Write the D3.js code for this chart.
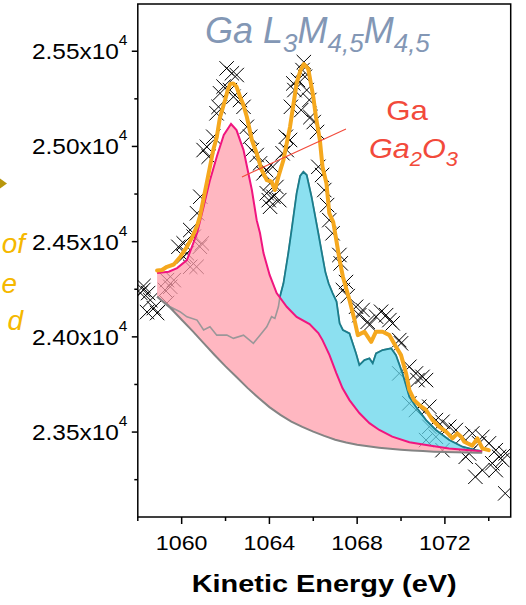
<!DOCTYPE html>
<html><head><meta charset="utf-8">
<script src="https://cdn.jsdelivr.net/npm/d3@7"></script>
<style>body{margin:0;background:#fff}svg{display:block}</style>
</head><body>
<svg id="c" width="526" height="605"></svg>
<script>
// ---- data ----
const rawE = [1058.12,1058.26,1058.25,1058.42,1058.47,1058.57,1058.73,1058.88,1059.24,1059.33,1059.33,1059.48,1059.64,1059.85,1060.09,1060.09,1060.24,1060.39,1060.39,1060.55,1060.68,1060.70,1060.83,1060.85,1060.92,1061.00,1061.15,1061.23,1061.44,1061.59,1061.68,1061.75,1061.91,1062.05,1062.20,1062.29,1062.36,1062.51,1062.66,1062.82,1062.97,1063.12,1063.20,1063.42,1063.57,1063.73,1063.85,1063.88,1063.97,1064.03,1064.03,1064.15,1064.18,1064.32,1064.45,1064.60,1064.75,1064.79,1064.94,1064.98,1065.09,1065.14,1065.30,1065.45,1065.51,1065.57,1065.62,1065.70,1065.82,1065.87,1066.02,1066.17,1066.23,1066.40,1066.50,1066.63,1066.73,1066.88,1067.19,1067.25,1067.35,1067.49,1067.57,1067.95,1068.10,1068.25,1068.48,1068.56,1068.86,1069.09,1069.32,1069.47,1069.62,1069.92,1069.92,1070.00,1070.38,1070.38,1070.68,1070.68,1070.75,1070.83,1070.98,1071.14,1071.14,1071.29,1071.29,1071.59,1071.59,1071.89,1071.89,1072.20,1072.50,1072.80,1072.95,1073.10,1073.25,1073.39,1073.56,1073.71,1073.71,1074.01,1074.16,1074.32,1074.32,1074.47,1074.62,1074.77,1074.75];
const rawI = [24230,24267,24246,24130,24230,24193,24151,24125,24246,24298,24178,24263,24298,24473,24491,24421,24439,24368,24561,24526,24368,24649,24473,24736,24491,24981,24998,24946,25051,25174,25208,25279,25314,25410,25296,25384,25261,25375,25244,25208,25103,25051,24981,24955,24911,24859,24876,24754,24718,24806,24683,24893,24736,24787,24718,24964,25051,24981,25034,25208,25331,25296,25349,25191,25401,25443,25366,25296,25244,25154,25128,25076,24893,24850,24771,24692,24613,24544,24430,24386,24246,24288,24214,24158,24114,24141,24079,24062,24106,24132,24114,24088,24071,23983,23808,23966,23843,23651,23808,23616,23773,23633,23790,23773,23458,23633,23528,23563,23475,23554,23405,23528,23511,23475,23370,23388,23493,23265,23441,23475,23300,23441,23336,23405,23300,23370,23353,23388,23178];

const envE = [1058.88,1059.10,1059.33,1059.64,1059.94,1060.24,1060.47,1060.70,1060.83,1061.15,1061.44,1061.60,1061.74,1061.98,1062.10,1062.21,1062.35,1062.50,1062.66,1062.80,1062.97,1063.20,1063.42,1063.65,1063.88,1064.10,1064.25,1064.41,1064.64,1064.94,1065.24,1065.42,1065.57,1065.77,1066.00,1066.12,1066.30,1066.42,1066.60,1066.73,1066.91,1067.05,1067.20,1067.35,1067.65,1067.88,1068.03,1068.33,1068.64,1068.86,1069.16,1069.47,1069.77,1070.00,1070.23,1070.38,1070.60,1070.83,1071.14,1071.44,1071.74,1072.05,1072.35,1072.57,1072.75,1072.88,1073.25,1073.48,1073.71,1074.00];
const envI = [24348,24351,24368,24380,24421,24473,24521,24582,24631,24813,24981,25049,25149,25244,25296,25328,25331,25314,25261,25223,25156,25034,24964,24876,24823,24815,24771,24841,24929,25103,25331,25401,25433,25407,25261,25156,25034,24893,24806,24649,24603,24508,24403,24316,24193,24088,24009,24027,23974,24027,24027,24009,23948,23904,23808,23721,23668,23642,23616,23563,23528,23502,23467,23493,23474,23449,23429,23467,23414,23405];

const bgE = [1058.88,1059.5,1060,1060.5,1061,1061.5,1062,1062.5,1063,1063.5,1064,1064.5,1065,1065.5,1066,1066.5,1067,1067.5,1068,1068.5,1069,1069.5,1070,1070.5,1071,1071.5,1072,1072.5,1073,1073.5,1073.7];
const bgI = [24211,24150,24090,24030,23967,23905,23845,23789,23732,23680,23631,23590,23555,23527,23502,23480,23460,23445,23433,23425,23418,23412,23407,23403,23400,23397,23395,23394,23393,23392,23392];

// Ga2O3 component (pink, on background)
const oxE = [1058.88,1059.41,1059.79,1060.24,1060.70,1061.00,1061.29,1061.60,1061.92,1062.25,1062.50,1062.82,1063.20,1063.42,1063.57,1063.73,1064.01,1064.33,1064.79,1065.24,1065.83,1066.23,1066.42,1066.74,1067.05,1067.33,1067.65,1068.10,1068.56,1069.01,1069.60,1070.38,1071.15,1072.19,1073.41,1073.70];
const oxI = [24335,24342,24361,24403,24545,24683,24823,24946,25060,25118,25086,24981,24771,24613,24545,24440,24325,24230,24158,24105,24067,24020,23983,23904,23810,23731,23668,23600,23547,23511,23476,23447,23432,23414,23402,23398];

// Ga metal component (cyan, stacked)
const gaE = [1058.88,1059.47,1059.92,1060.24,1060.70,1061.00,1061.29,1061.60,1062.06,1062.36,1062.82,1063.27,1063.57,1063.88,1064.10,1064.25,1064.41,1064.48,1064.64,1064.86,1065.01,1065.24,1065.40,1065.55,1065.70,1065.92,1066.23,1066.40,1066.55,1066.70,1066.88,1067.06,1067.20,1067.35,1067.65,1067.95,1068.10,1068.33,1068.56,1068.71,1068.86,1069.16,1069.55,1069.77,1070.07,1070.38,1070.68,1071.14,1071.59,1072.20,1072.80,1073.41,1073.70];
const gaI = [24211,24158,24132,24105,24088,24036,24053,24009,24009,23992,24009,23966,24009,24053,24106,24097,24158,24211,24281,24439,24561,24754,24845,24867,24850,24736,24544,24435,24340,24280,24230,24185,24071,24036,24018,23913,23852,23878,23887,23861,23913,23931,23940,23904,23808,23685,23633,23563,23511,23458,23423,23405,23400];

const xMajor = [1060,1064,1068,1072];
const xMinor = [1058,1062,1066,1070,1074];
const yMajor = [23500,24000,24500,25000,25500];
const yMinor = [23250,23750,24250,24750,25250];
const annoE = [1062.75,1067.49];
const annoI = [24840,25092];

// ---- drawing ----
const svg = d3.select('#c');
const L = 137.8, R = 510.7, T = 4, B = 517;
const x = d3.scaleLinear().domain([1058,1075]).range([L,R]);
const y = d3.scaleLinear().domain([23054,25748]).range([B,T]);
const zip = (a,b) => a.map((v,i)=>[v,b[i]]);
const env = zip(envE,envI), bg = zip(bgE,bgI), ox = zip(oxE,oxI), ga = zip(gaE,gaI), raw = zip(rawE,rawI);
const line = d3.line().x(d=>x(d[0])).y(d=>y(d[1]));

const defs = svg.append('defs');
defs.append('clipPath').attr('id','plot').append('rect').attr('x',L).attr('y',T).attr('width',R-L).attr('height',B-T);
defs.append('clipPath').attr('id','aboveOx').append('path')
  .attr('d', line(ox) + `L${x(oxE[oxE.length-1])},${T}L${x(oxE[0])},${T}Z`);

const g = svg.append('g').attr('clip-path','url(#plot)');

// markers
g.append('g').selectAll('path').data(raw).join('path')
  .attr('d', d => { const cx=x(d[0]), cy=y(d[1]), s=7.2; return `M${cx-s},${cy-s}L${cx+s},${cy+s}M${cx-s},${cy+s}L${cx+s},${cy-s}`; })
  .attr('stroke','#000').attr('stroke-width',1).attr('fill','none');

// pink area
g.append('path').attr('d', line(ox.concat(bg.slice().reverse())) + 'Z')
  .attr('fill','rgb(255,159,172)').attr('fill-opacity',0.75);
// gray (lower part of Ga curve)
g.append('path').attr('d', line(ga)).attr('fill','none').attr('stroke','#9b9799').attr('stroke-width',1.6);
// cyan area
g.append('path').attr('clip-path','url(#aboveOx)').attr('d', line(ga.concat(ox.slice().reverse())) + 'Z')
  .attr('fill','rgb(102,214,235)').attr('fill-opacity',0.75);
g.append('path').attr('clip-path','url(#aboveOx)').attr('d', line(ga)).attr('fill','none').attr('stroke','#1a7d8c').attr('stroke-width',1.8);
// magenta
g.append('path').attr('d', line(ox)).attr('fill','none').attr('stroke','#f0157f').attr('stroke-width',2);
// background
g.append('path').attr('d', line(bg)).attr('fill','none').attr('stroke','#848484').attr('stroke-width',2);
// envelope
g.append('path').attr('d', line(env)).attr('fill','none').attr('stroke','#f5a81e').attr('stroke-width',4).attr('stroke-linejoin','round').attr('stroke-linecap','round');

// annotation line
svg.append('line').attr('x1',x(annoE[0])).attr('y1',y(annoI[0])).attr('x2',x(annoE[1])).attr('y2',y(annoI[1]))
  .attr('stroke','#f24a3b').attr('stroke-width',1.1);

// axes frame
const ax = svg.append('g').attr('stroke','#000').attr('stroke-width',1.5).attr('fill','none');
ax.append('rect').attr('x',L).attr('y',T).attr('width',R-L).attr('height',B-T);
xMajor.forEach(v=>ax.append('line').attr('x1',x(v)).attr('x2',x(v)).attr('y1',B).attr('y2',B+7));
xMinor.forEach(v=>ax.append('line').attr('x1',x(v)).attr('x2',x(v)).attr('y1',B).attr('y2',B+4));
yMajor.forEach(v=>ax.append('line').attr('x1',L-6).attr('x2',L).attr('y1',y(v)).attr('y2',y(v)));
yMinor.forEach(v=>ax.append('line').attr('x1',L-3.5).attr('x2',L).attr('y1',y(v)).attr('y2',y(v)));

const font = "'Liberation Sans', Arial, sans-serif";
// y tick labels
yMajor.forEach(v=>{
  const t = svg.append('text').attr('x',32).attr('y',y(v)+8).attr('font-family',font).attr('font-size',22)
    .attr('fill','#000').attr('textLength',95.5).attr('lengthAdjust','spacingAndGlyphs');
  t.append('tspan').text((v/1e4).toFixed(2)+'x10');
  t.append('tspan').attr('font-size',14).attr('dy',-14).text('4');
});
// x tick labels
xMajor.forEach(v=>{
  svg.append('text').attr('x',x(v)-25.8).attr('y',550).attr('font-family',font).attr('font-size',21)
    .attr('fill','#000').attr('textLength',51.6).attr('lengthAdjust','spacingAndGlyphs').text(v);
});
// x title
svg.append('text').attr('x',191.7).attr('y',592).attr('font-family',font).attr('font-size',24).attr('font-weight','bold')
  .attr('textLength',265).attr('lengthAdjust','spacingAndGlyphs').text('Kinetic Energy (eV)');

// chart title
const tt = svg.append('text').attr('x',205).attr('y',42.7).attr('font-family',font).attr('font-size',36)
  .attr('font-style','italic').attr('fill','#8397b5');
tt.append('tspan').text('Ga L');
tt.append('tspan').attr('font-size',26).attr('dy',9).text('3');
tt.append('tspan').attr('dy',-9).text('M');
tt.append('tspan').attr('font-size',26).attr('dy',9).text('4,5');
tt.append('tspan').attr('dy',-9).text('M');
tt.append('tspan').attr('font-size',26).attr('dy',9).text('4,5');

// component labels
svg.append('text').attr('x',386.3).attr('y',120).attr('font-family',font).attr('font-size',28).attr('fill','#f24a3b')
  .attr('textLength',41.7).attr('lengthAdjust','spacingAndGlyphs').text('Ga');
const t2 = svg.append('text').attr('x',369).attr('y',158.3).attr('font-family',font).attr('font-size',28).attr('font-style','italic')
  .attr('fill','#f24a3b').attr('textLength',89).attr('lengthAdjust','spacingAndGlyphs');
t2.append('tspan').text('Ga');
t2.append('tspan').attr('font-size',20).attr('dy',8).text('2');
t2.append('tspan').attr('dy',-8).text('O');
t2.append('tspan').attr('font-size',20).attr('dy',8).text('3');

// cut-off side legend fragments
const side = [['of',25,253,28],['e',17,293,28],['d',23,330,28]];
side.forEach(s=>svg.append('text').attr('x',s[1]).attr('y',s[2]).attr('text-anchor','end').attr('font-family',font)
  .attr('font-size',s[3]).attr('font-style','italic').attr('fill','#f5b800').text(s[0]));
svg.append('path').attr('d','M0,178.5L7,183.5L0,188.5Z').attr('fill','#b8960c');
</script>
</body></html>
